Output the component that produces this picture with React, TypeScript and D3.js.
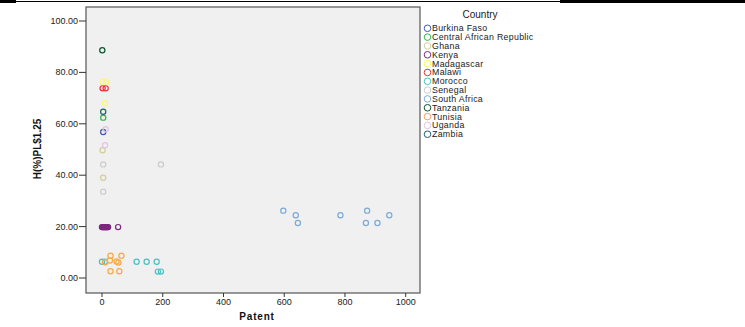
import React from "react";
import * as d3 from "d3";

// country names and SPSS-like colours
const countries = [
  "Burkina Faso",
  "Central African Republic",
  "Ghana",
  "Kenya",
  "Madagascar",
  "Malawi",
  "Morocco",
  "Senegal",
  "South Africa",
  "Tanzania",
  "Tunisia",
  "Uganda",
  "Zambia",
];
const colors = [
  "#3e58ac",
  "#2eb848",
  "#d3ce97",
  "#7c287d",
  "#fbf873",
  "#ef3338",
  "#48c2c5",
  "#cccccc",
  "#7aaad5",
  "#0a562c",
  "#f8a940",
  "#e1c2ea",
  "#1f5f74",
];

// [patent, H(%)PL$1.25] per country
const burkinaFaso = [[4, 56.8]];
const centralAfrican = [[4, 62.4]];
const ghana = [[2, 49.7], [4, 39.0]];
const kenya = [[0, 19.8], [2, 19.8], [4, 19.8], [6, 19.8], [8, 19.8], [10, 19.8], [12, 19.8], [14, 19.8], [16, 19.8], [18, 19.8], [20, 19.8], [53, 19.8]];
const madagascar = [[2, 76.4], [14, 76.4], [10, 68.0]];
const malawi = [[2, 73.8], [12, 73.8]];
const morocco = [[0, 6.3], [10, 6.3], [114, 6.3], [147, 6.3], [180, 6.3], [184, 2.5], [194, 2.5]];
const senegal = [[4, 44.2], [194, 44.2], [4, 33.6]];
const southAfrica = [[597, 26.2], [638, 24.4], [645, 21.4], [785, 24.4], [873, 26.2], [869, 21.4], [907, 21.4], [946, 24.4]];
const tanzania = [[1, 88.6]];
const tunisia = [[28, 8.7], [64, 8.7], [10, 6.1], [26, 6.8], [48, 6.4], [54, 6.0], [28, 2.6], [57, 2.6]];
const uganda = [[12, 57.9], [10, 51.7]];
const zambia = [[4, 64.7]];

const series = [
  burkinaFaso,
  centralAfrican,
  ghana,
  kenya,
  madagascar,
  malawi,
  morocco,
  senegal,
  southAfrica,
  tanzania,
  tunisia,
  uganda,
  zambia,
];

const xTicks = [0, 200, 400, 600, 800, 1000];
const yTicks = [0, 20, 40, 60, 80, 100];

const width = 745;
const height = 327;
const plot = { left: 86, right: 420, top: 7, bottom: 293 };
const font = "'Liberation Sans', Arial, sans-serif";

export default function App() {
  const x = d3.scaleLinear().domain([0, 1000]).range([102, 405.7]);
  const y = d3.scaleLinear().domain([0, 100]).range([278, 21]);

  return (
    <>
      <style>{`body{margin:0;background:#fff}`}</style>
      <svg width={width} height={height} style={{ display: "block" }}>
        {/* page rule lines */}
        <line x1={0} x2={width} y1={1.5} y2={1.5} stroke="#000" strokeWidth={1} />
        <rect x={0} y={0} width={16} height={3} fill="#000" />
        <rect x={560} y={0} width={185} height={3} fill="#000" />

        <rect
          x={plot.left}
          y={plot.top}
          width={plot.right - plot.left}
          height={plot.bottom - plot.top}
          fill="#f0f0f0"
          stroke="#555"
          strokeWidth={1.2}
        />

        {/* y axis */}
        {yTicks.map((t) => (
          <g key={t}>
            <line x1={79} x2={plot.left} y1={y(t)} y2={y(t)} stroke="#333" strokeWidth={1} />
            <text x={78} y={y(t) + 3} textAnchor="end" fontFamily={font} fontSize={9} fill="#222">
              {t.toFixed(2)}
            </text>
          </g>
        ))}
        {/* x axis */}
        {xTicks.map((t) => (
          <g key={t}>
            <line x1={x(t)} x2={x(t)} y1={plot.bottom} y2={plot.bottom + 4} stroke="#333" strokeWidth={1} />
            <text x={x(t)} y={305} textAnchor="middle" fontFamily={font} fontSize={9} fill="#222">
              {t}
            </text>
          </g>
        ))}

        <text
          x={257}
          y={320}
          textAnchor="middle"
          fontFamily={font}
          fontSize={10}
          fontWeight="bold"
          letterSpacing={0.8}
          fill="#111"
        >
          Patent
        </text>
        <text
          transform="translate(41,149) rotate(-90)"
          textAnchor="middle"
          fontFamily="'Liberation Sans Narrow', 'Liberation Sans', Arial, sans-serif"
          fontSize={10}
          fontWeight="bold"
          fill="#111"
        >
          H(%)PL$1.25
        </text>

        {/* points */}
        {series.map((pts, i) =>
          pts.map((p, j) => (
            <circle
              key={`${i}-${j}`}
              cx={x(p[0])}
              cy={y(p[1])}
              r={2.6}
              fill="none"
              stroke={colors[i]}
              strokeWidth={1.2}
            />
          ))
        )}

        {/* legend */}
        <text x={480} y={18} textAnchor="middle" fontFamily={font} fontSize={10} fill="#222">
          Country
        </text>
        {countries.map((c, i) => {
          const ly = 28.3 + i * 8.83;
          return (
            <g key={c}>
              <circle cx={427.5} cy={ly} r={3.3} fill="none" stroke={colors[i]} strokeWidth={1} />
              <text x={432} y={ly + 3} fontFamily={font} fontSize={8.8} letterSpacing={0.3} fill="#222">
                {c}
              </text>
            </g>
          );
        })}
      </svg>
    </>
  );
}
